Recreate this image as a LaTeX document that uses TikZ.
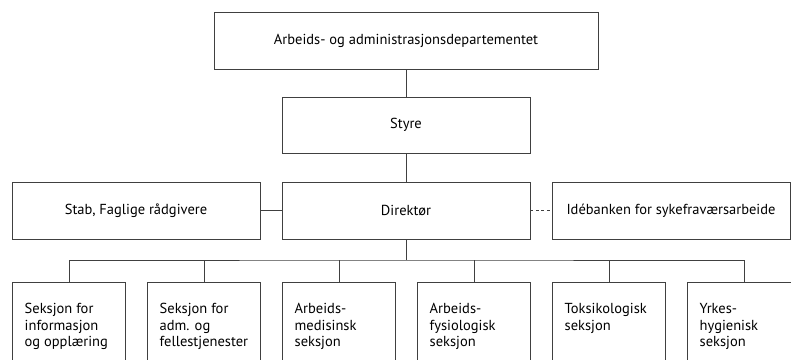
\documentclass[tikz,border=0pt]{standalone}
\usepackage{fontspec}
\setmainfont{PT Sans}
\tikzset{
  box/.style={draw=black!75, line width=0.8pt, rectangle, inner sep=0pt,
    font=\fontsize{14.5}{17}\selectfont},
  link/.style={draw=black!75, line width=0.8pt},
  section text/.style={anchor=north west, align=left, inner sep=0pt,
    font=\fontsize{14.5}{16.7}\selectfont}
}
\begin{document}
\begin{tikzpicture}[x=1pt,y=-1pt]
  \useasboundingbox (0,0) rectangle (791,359);
  \clip (0,0) rectangle (791,359);
  % top levels
  \node[box, minimum width=384pt, minimum height=57pt] (ministry) at (406,40.5)
    {Arbeids- og administrasjonsdepartementet};
  \node[box, minimum width=248pt, minimum height=56pt] (board) at (406,125)
    {Styre};
  \node[box, minimum width=248pt, minimum height=57pt] (director) at (406,210.5)
    {Direktør};
  \node[box, minimum width=248pt, minimum height=57pt] (staff) at (136,210.5)
    {Stab, Faglige rådgivere};
  \node[box, minimum width=238pt, minimum height=57pt] (ideas) at (671,210.5)
    {Idébanken for sykefraværsarbeide};
  % sections
  \node[box, anchor=north west, minimum width=113pt, minimum height=100pt] (sec1) at (12,282) {};
  \node[box, anchor=north west, minimum width=113pt, minimum height=100pt] (sec2) at (147,282) {};
  \node[box, anchor=north west, minimum width=113pt, minimum height=100pt] (sec3) at (282,282) {};
  \node[box, anchor=north west, minimum width=113pt, minimum height=100pt] (sec4) at (417,282) {};
  \node[box, anchor=north west, minimum width=113pt, minimum height=100pt] (sec5) at (552,282) {};
  \node[box, anchor=north west, minimum width=113pt, minimum height=100pt] (sec6) at (687,282) {};
  \node[section text] (sec1 text) at ([xshift=12.5pt,yshift=-21pt]sec1.north west)
    {Seksjon for\\informasjon\\og opplæring};
  \node[section text] (sec2 text) at ([xshift=12.5pt,yshift=-21pt]sec2.north west)
    {Seksjon for\\adm. og\\fellestjenester};
  \node[section text] (sec3 text) at ([xshift=12.5pt,yshift=-21pt]sec3.north west)
    {Arbeids-\\medisinsk\\seksjon};
  \node[section text] (sec4 text) at ([xshift=12.5pt,yshift=-21pt]sec4.north west)
    {Arbeids-\\fysiologisk\\seksjon};
  \node[section text] (sec5 text) at ([xshift=12.5pt,yshift=-21pt]sec5.north west)
    {Toksikologisk\\seksjon};
  \node[section text] (sec6 text) at ([xshift=12.5pt,yshift=-21pt]sec6.north west)
    {Yrkes-\\hygienisk\\seksjon};
  % connectors
  \draw[link] (ministry) -- (board);
  \draw[link] (board) -- (director);
  \draw[link] (staff) -- (director);
  \draw[link, dash pattern=on 3pt off 2.5pt] (director) -- (ideas);
  \coordinate (bus) at (406,260);
  \draw[link] (director) -- (bus);
  \draw[link] (sec1.north) |- (bus) -| (sec6.north);
  \foreach \s in {sec2,sec3,sec4,sec5}
    \draw[link] (\s.north) -- (\s.north |- bus);
\end{tikzpicture}
\end{document}
